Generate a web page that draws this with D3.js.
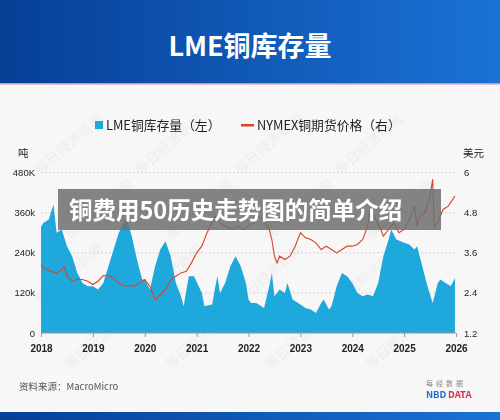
<!DOCTYPE html>
<html><head><meta charset="utf-8">
<script src="https://cdn.jsdelivr.net/npm/d3@7"></script>
<style>body{margin:0;background:#f7f7f7;font-family:"Noto Sans CJK SC","Noto Sans",sans-serif}</style>
</head><body><svg id="c" width="500" height="420"></svg>
<script>
const invDates=[2018.0,2018.05,2018.15,2018.24,2018.3,2018.4,2018.5,2018.6,2018.7,2018.8,2018.9,2019.0,2019.1,2019.2,2019.3,2019.4,2019.5,2019.6,2019.65,2019.75,2019.85,2019.95,2020.0,2020.1,2020.2,2020.3,2020.4,2020.5,2020.6,2020.7,2020.75,2020.85,2020.95,2021.1,2021.15,2021.3,2021.35,2021.4,2021.45,2021.55,2021.65,2021.75,2021.85,2021.95,2022.0,2022.05,2022.15,2022.3,2022.4,2022.45,2022.5,2022.6,2022.7,2022.75,2022.85,2023.0,2023.1,2023.2,2023.3,2023.4,2023.45,2023.55,2023.6,2023.7,2023.8,2023.9,2024.0,2024.1,2024.2,2024.3,2024.4,2024.5,2024.6,2024.7,2024.75,2024.85,2025.0,2025.1,2025.2,2025.25,2025.35,2025.45,2025.55,2025.65,2025.7,2025.8,2025.9,2025.98];
const invValues=[318,330,340,385,300,310,260,230,180,150,140,140,130,150,200,250,300,330,345,290,220,160,160,130,200,250,275,230,150,110,80,170,170,120,80,85,130,170,120,150,200,230,200,150,100,90,90,75,140,180,110,130,120,150,100,85,75,70,60,90,100,70,80,140,180,170,150,120,110,115,110,150,230,280,310,280,270,265,250,260,200,140,90,150,160,150,140,165];
const priceDates=[2018.0,2018.1,2018.2,2018.3,2018.4,2018.45,2018.5,2018.6,2018.7,2018.8,2018.9,2019.0,2019.1,2019.2,2019.35,2019.5,2019.6,2019.7,2019.8,2019.9,2020.0,2020.1,2020.2,2020.3,2020.4,2020.5,2020.6,2020.7,2020.8,2020.9,2021.0,2021.1,2021.2,2021.3,2021.35,2021.45,2021.6,2021.7,2021.8,2021.9,2022.0,2022.1,2022.2,2022.3,2022.4,2022.45,2022.5,2022.55,2022.6,2022.7,2022.8,2022.9,2023.0,2023.1,2023.2,2023.3,2023.4,2023.5,2023.6,2023.7,2023.8,2023.9,2024.0,2024.1,2024.2,2024.3,2024.35,2024.45,2024.55,2024.6,2024.7,2024.8,2024.9,2025.0,2025.1,2025.2,2025.25,2025.3,2025.4,2025.5,2025.55,2025.58,2025.65,2025.75,2025.85,2025.98];
const priceValues=[3.24,3.1,3.05,3.0,3.1,3.2,2.9,2.75,2.8,2.8,2.75,2.65,2.75,2.92,2.9,2.7,2.6,2.62,2.6,2.7,2.8,2.6,2.2,2.35,2.5,2.8,2.9,3.0,3.05,3.3,3.6,3.8,4.2,4.5,4.7,4.5,4.35,4.3,4.4,4.3,4.4,4.5,4.7,4.6,4.3,4.0,3.5,3.3,3.5,3.4,3.5,3.8,4.2,4.05,4.0,3.9,3.7,3.8,3.7,3.6,3.7,3.8,3.8,3.85,4.0,4.4,4.9,4.6,4.3,4.1,4.3,4.5,4.2,4.3,4.6,5.0,4.4,4.7,4.8,5.3,5.8,4.4,4.5,4.9,5.0,5.3];
const yearTicks=[2018,2019,2020,2021,2022,2023,2024,2025,2026];
const leftTicks=[0,120,240,360,480];
const leftLabels=["0","120k","240k","360k","480K"];
const rightTicks=[1.2,2.4,3.6,4.8,6];

const svg=d3.select("#c");
const defs=svg.append("defs");
const g1=defs.append("linearGradient").attr("id","hg");
g1.append("stop").attr("offset","0").attr("stop-color","#063f96");
g1.append("stop").attr("offset","1").attr("stop-color","#1a72d6");
svg.append("rect").attr("width",500).attr("height",83).attr("fill","url(#hg)");
svg.append("rect").attr("y",83).attr("width",500).attr("height",1.5).attr("fill","#e88a9a");
svg.append("rect").attr("y",412).attr("width",500).attr("height",8).attr("fill","url(#hg)");
svg.append("text").attr("x",250).attr("y",56).attr("text-anchor","middle").attr("fill","#fff").attr("font-size",27).attr("font-weight","bold").text("LME铜库存量");

// watermark
const wm=svg.append("g").attr("fill","#000").attr("opacity",0.035).attr("font-size",14).attr("font-weight","bold");
for(let r=0;r<4;r++)for(let c=0;c<4;c++)wm.append("text").attr("transform",`translate(${40+c*100+(r%2)*30},${175+r*65}) rotate(-40)`).text("每日经济新闻");

const x=d3.scaleLinear().domain([2018,2026]).range([41,456]);
const yl=d3.scaleLinear().domain([0,480]).range([333,172.7]);
const yr=d3.scaleLinear().domain([1.2,6]).range([333,172.7]);

leftTicks.forEach(t=>svg.append("line").attr("x1",41).attr("x2",456).attr("y1",yl(t)).attr("y2",yl(t)).attr("stroke","#ccc").attr("stroke-dasharray","2,2").attr("stroke-width",0.8));

const inv=invDates.map((d,i)=>[d,invValues[i]]);
svg.append("path").datum(inv).attr("fill","#1ea8dc").attr("d",d3.area().x(d=>x(d[0])).y0(yl(0)).y1(d=>yl(d[1])));
const pr=priceDates.map((d,i)=>[d,priceValues[i]]);
svg.append("path").datum(pr).attr("fill","none").attr("stroke","#d9432a").attr("stroke-width",1.1).attr("d",d3.line().x(d=>x(d[0])).y(d=>yr(d[1])));
svg.append("line").attr("x1",41).attr("x2",456).attr("y1",333).attr("y2",333).attr("stroke","#999");

const ax=svg.append("g").attr("transform","translate(0,333)").call(d3.axisBottom(x).tickValues(yearTicks).tickFormat(d3.format("d")).tickSize(4));
ax.select(".domain").remove();
ax.selectAll("line").attr("stroke","#999");
ax.selectAll("text").attr("font-size",10).attr("font-weight","bold").attr("fill","#222").attr("dy","1.2em");
const al=svg.append("g").attr("transform","translate(38,0)").call(d3.axisLeft(yl).tickValues(leftTicks).tickFormat((d,i)=>leftLabels[i]).tickSize(0));
al.select(".domain").remove();al.selectAll("text").attr("font-size",9.5).attr("fill","#222");
const ar=svg.append("g").attr("transform","translate(461,0)").call(d3.axisRight(yr).tickValues(rightTicks).tickFormat(d=>d).tickSize(0));
ar.select(".domain").remove();ar.selectAll("text").attr("font-size",9.5).attr("fill","#222");
svg.append("text").attr("x",18).attr("y",157).attr("font-size",10.5).attr("fill","#222").text("吨");
svg.append("text").attr("x",463).attr("y",157).attr("font-size",10.5).attr("fill","#222").text("美元");

// legend
svg.append("rect").attr("x",95).attr("y",121).attr("width",8).attr("height",8).attr("fill","#1ea8dc");
svg.append("text").attr("x",106).attr("y",130).attr("font-size",12.8).attr("fill","#222").text("LME铜库存量（左）");
svg.append("rect").attr("x",241).attr("y",124).attr("width",13).attr("height",2.5).attr("fill","#d9432a");
svg.append("text").attr("x",257).attr("y",130).attr("font-size",12.8).attr("fill","#222").text("NYMEX铜期货价格（右）");

// banner
svg.append("rect").attr("x",58).attr("y",189).attr("width",383).attr("height",41).attr("fill","rgba(110,110,110,0.85)");
svg.append("text").attr("x",69).attr("y",219).attr("font-size",23.5).attr("font-weight","bold").attr("fill","#fff").text("铜费用50历史走势图的简单介绍");

svg.append("text").attr("x",19).attr("y",390).attr("font-size",9.5).attr("fill","#555").text("资料来源：MacroMicro");
svg.append("text").attr("x",426).attr("y",386).attr("font-size",7).attr("fill","#888").attr("letter-spacing",3).text("每经数据");
svg.append("text").attr("x",426).attr("y",398).attr("font-size",9.5).attr("font-weight","bold").attr("fill","#1a6fd6").text("NBD");
svg.append("text").attr("x",448).attr("y",398).attr("font-size",9.5).attr("font-weight","bold").attr("fill","#e0284a").text("DATA");
</script></body></html>
